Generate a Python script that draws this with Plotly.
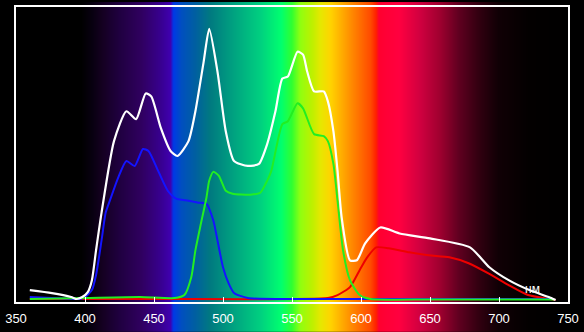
import base64
import struct
import zlib

import plotly.graph_objects as go

# ---- data (intensity in arbitrary units) ----
white_nm = [360, 376, 390, 394, 398, 402, 405, 408, 412, 421, 430, 437, 444, 448, 455, 462, 467, 475, 480, 486,
            490, 496, 502, 508, 518, 526, 532, 538, 543, 547, 554, 558, 561, 566, 573, 576, 580, 583, 586, 592,
            597, 603, 614, 628, 650, 679, 693, 707, 722, 736, 741]
white_val = [10, 7, 3, 1, 3, 8, 20, 50, 88, 160, 190, 182, 208, 205, 173, 150, 145, 160, 190, 240,
             273, 230, 170, 140, 135, 137, 157, 190, 223, 225, 250, 247, 230, 210, 210, 200, 170, 130, 83, 40,
             40, 57, 73, 67, 62, 53, 33, 20, 10, 3, 0]

blue_nm = [360, 376, 394, 399, 405, 408, 412, 415, 418, 424, 430, 436, 442, 446, 453, 460, 466, 475, 482, 488,
           493, 496, 500, 504, 508, 518, 556, 650, 740]
blue_val = [3, 2, 1, 2, 10, 25, 60, 88, 100, 123, 140, 135, 152, 150, 130, 110, 102, 100, 98, 97,
            80, 60, 33, 17, 7, 2, 1, 1, 1]

green_nm = [360, 400, 440, 465, 472, 477, 480, 484, 488, 490, 493, 497, 502, 507, 520, 527, 532, 535, 543, 547,
            554, 558, 566, 573, 576, 580, 583, 587, 592, 599, 607, 650, 740]
green_val = [1, 2, 3, 2, 5, 23, 50, 77, 103, 120, 129, 125, 110, 107, 106, 108, 120, 130, 177, 180,
             198, 193, 167, 165, 160, 137, 100, 50, 20, 5, 1, 0.5, 0.5]

red_nm = [360, 450, 576, 583, 592, 599, 604, 611, 620, 635, 649, 664, 678, 692, 707, 721, 737, 741]
red_val = [1, 1, 2, 5, 13, 30, 42, 53, 52, 48, 45, 43, 37, 27, 15, 5, 1, 0]

x_ticks = [350, 400, 450, 500, 550, 600, 650, 700, 750]
unit_label = "нм"

# spectrum background colour stops (wavelength, colour)
spec_nm = [350, 397, 405, 412, 425, 441, 455, 462, 464, 470, 480, 491, 505, 527, 542, 550, 556, 565, 571, 578,
           592, 607, 611, 613, 628, 643, 657, 671, 686, 700, 722, 750]
spec_col = ["#000000", "#000000", "#080010", "#140020", "#200040", "#300060", "#380090", "#4000b0", "#0038e8",
            "#0050c0", "#0060a0", "#007a80", "#009c80", "#00d080", "#00ff70", "#30ff30", "#90ff10", "#c0f000",
            "#e8e800", "#ffd400", "#ff9000", "#ff4a00", "#ff2000", "#ff0030", "#ff0040", "#d00040", "#a00030",
            "#600020", "#300010", "#100005", "#030000", "#000000"]

W, H = 584, 332
ML, MR, MT, MB = 14, 15, 5, 30
X_RANGE = [350, 750]
Y_RANGE = [-2, 295]


def hex2rgb(h):
    return tuple(int(h[i:i + 2], 16) for i in (1, 3, 5))


def colour_at(w):
    if w <= spec_nm[0] or w >= spec_nm[-1]:
        return (0, 0, 0)
    for i in range(len(spec_nm) - 1):
        if spec_nm[i] <= w <= spec_nm[i + 1]:
            a = hex2rgb(spec_col[i])
            b = hex2rgb(spec_col[i + 1])
            t = (w - spec_nm[i]) / (spec_nm[i + 1] - spec_nm[i])
            return tuple(round(a[k] + (b[k] - a[k]) * t) for k in range(3))
    return (0, 0, 0)


# build a small gradient PNG spanning the whole figure width
pw = W - ML - MR
row = bytearray([0])
for i in range(W):
    wl = X_RANGE[0] + (i + 0.5 - ML) * (X_RANGE[1] - X_RANGE[0]) / pw
    row.extend(colour_at(wl))
png_rows = b"".join(bytes(row) for _ in range(2))


def chunk(tag, data):
    c = struct.pack(">I", len(data)) + tag + data
    return c + struct.pack(">I", zlib.crc32(tag + data) & 0xffffffff)


png = b"\x89PNG\r\n\x1a\n" + chunk(b"IHDR", struct.pack(">IIBBBBB", W, 2, 8, 2, 0, 0, 0)) \
    + chunk(b"IDAT", zlib.compress(png_rows)) + chunk(b"IEND", b"")
src = "data:image/png;base64," + base64.b64encode(png).decode()

ph = H - MT - MB
fig = go.Figure()
for xs, ys, col, wd in [(red_nm, red_val, "#ee0000", 2),
                        (blue_nm, blue_val, "#1414ff", 2),
                        (green_nm, green_val, "#22ee22", 2),
                        (white_nm, white_val, "#ffffff", 2.2)]:
    fig.add_trace(go.Scatter(x=xs, y=ys, mode="lines",
                             line=dict(color=col, width=wd, shape="spline", smoothing=0.6),
                             hoverinfo="skip", showlegend=False))

fig.add_annotation(x=724, y=11, xref="x", yref="y", text=unit_label, showarrow=False,
                   font=dict(color="white", size=12, family="Liberation Sans, Arial"))

fig.update_layout(
    width=W, height=H,
    margin=dict(l=ML, r=MR, t=MT, b=MB),
    paper_bgcolor="black", plot_bgcolor="rgba(0,0,0,0)",
    images=[dict(source=src, xref="paper", yref="paper", x=-ML / pw, y=1 + MT / ph,
                 sizex=W / pw, sizey=H / ph, sizing="stretch", xanchor="left", yanchor="top",
                 layer="below")],
    xaxis=dict(range=X_RANGE, tickvals=x_ticks, ticktext=[str(t) for t in x_ticks],
               showgrid=False, zeroline=False, showline=True, linecolor="white", linewidth=1.5,
               mirror=True, ticks="inside", ticklen=5, tickcolor="white", tickwidth=1,
               ticklabelstandoff=4,
               tickfont=dict(color="white", size=13, family="Liberation Sans, Arial")),
    yaxis=dict(range=Y_RANGE, showgrid=False, zeroline=False, showline=True, linecolor="white",
               linewidth=1.5, mirror=True, ticks="", showticklabels=False),
)

fig.write_html("out.html")
